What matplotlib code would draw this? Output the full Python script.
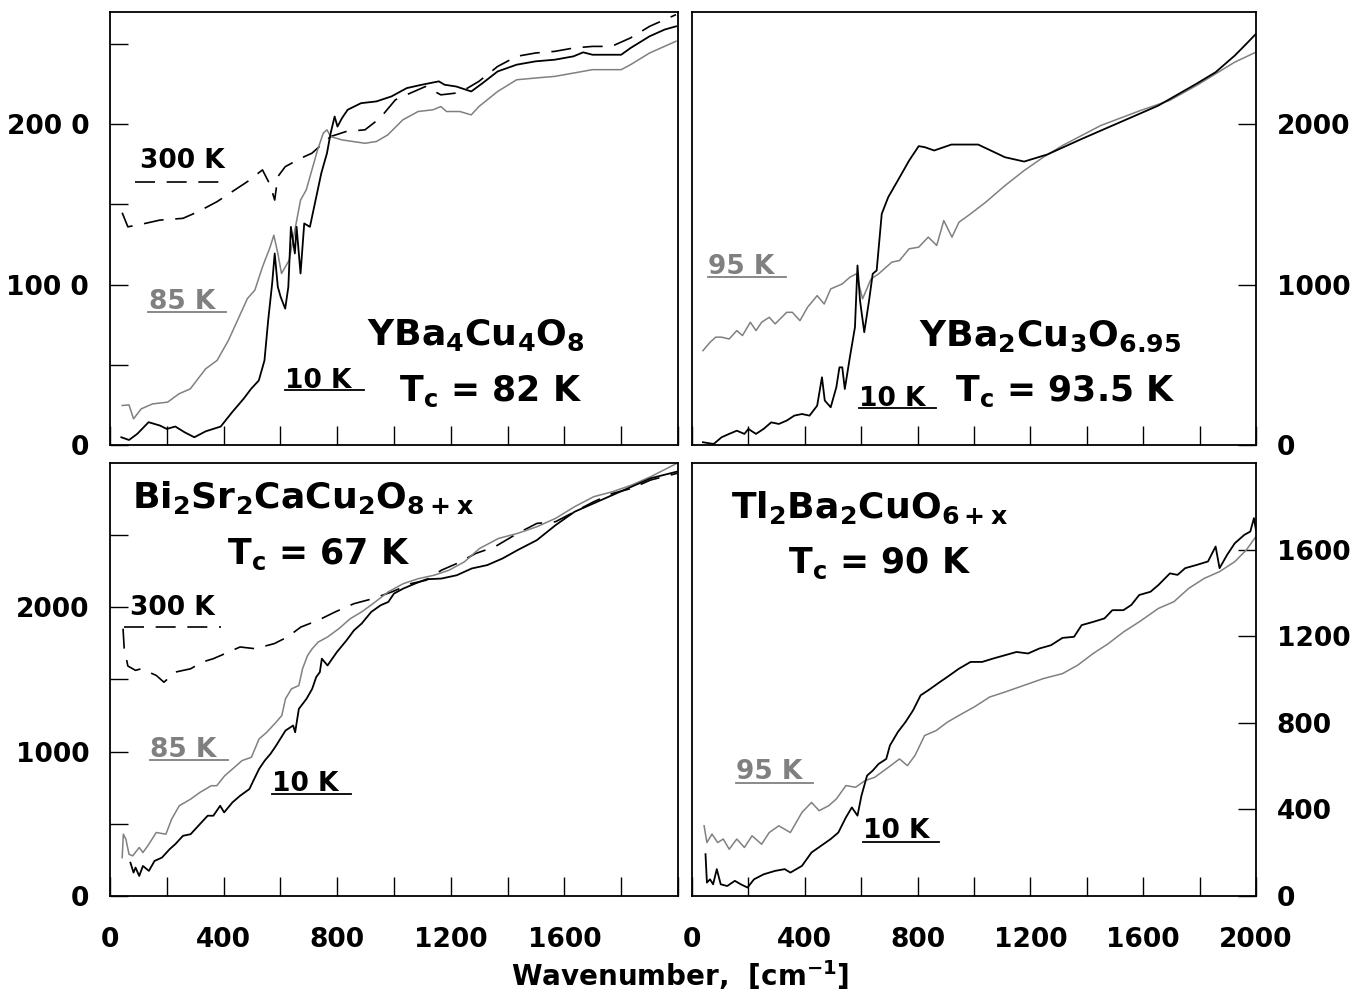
import matplotlib
matplotlib.use("Agg")
import matplotlib.pyplot as plt

plt.rcParams['font.family'] = 'DejaVu Sans'
plt.rcParams['font.weight'] = 'bold'
plt.rcParams['mathtext.fontset'] = 'dejavusans'
plt.rcParams['mathtext.default'] = 'bf'

GRAY = '#808080'
DASH = (0, (12, 7))

# ---- YBa4Cu4O8 (top left) ----
y124_x10 = [40, 67, 96, 136, 176, 200, 230, 263, 297, 337, 390, 430, 470, 497, 524, 544, 557, 571, 580, 591,
            601, 617, 628, 637, 651, 657, 671, 684, 704, 724, 744, 764, 777, 791, 801, 817, 837, 884, 938, 991,
            1045, 1098, 1158, 1178, 1219, 1272, 1312, 1365, 1432, 1499, 1566, 1632, 1666, 1699, 1753, 1800,
            1833, 1900, 1953, 1993]
y124_y10 = [48, 31, 69, 142, 121, 100, 115, 79, 48, 85, 115, 204, 287, 350, 402, 527, 777, 1006, 1194, 985,
            923, 850, 985, 1360, 1194, 1360, 1069, 1381, 1360, 1527, 1694, 1819, 1944, 2048, 1985, 2038, 2090,
            2131, 2142, 2173, 2225, 2246, 2267, 2246, 2235, 2204, 2256, 2329, 2371, 2392, 2402, 2423, 2448,
            2433, 2433, 2433, 2475, 2548, 2590, 2610]
y124_x85 = [43, 67, 83, 110, 150, 203, 243, 283, 310, 337, 377, 417, 457, 484, 510, 537, 564, 577, 591, 604,
            631, 651, 671, 691, 711, 731, 751, 764, 777, 817, 898, 938, 978, 1031, 1085, 1138, 1165, 1185, 1232,
            1272, 1299, 1365, 1432, 1499, 1566, 1633, 1699, 1800, 1833, 1900, 1993]
y124_y85 = [246, 250, 163, 225, 256, 267, 319, 350, 413, 475, 527, 652, 808, 913, 965, 1110, 1235, 1308, 1194,
            1069, 1152, 1340, 1527, 1590, 1715, 1840, 1944, 1965, 1923, 1902, 1881, 1892, 1933, 2027, 2079,
            2090, 2110, 2079, 2079, 2058, 2110, 2204, 2277, 2288, 2298, 2319, 2340, 2340, 2371, 2444, 2517]
y124_x300 = [43, 63, 123, 176, 257, 310, 377, 430, 484, 537, 564, 580, 591, 617, 671, 711, 737, 777, 831, 898,
             951, 1005, 1058, 1111, 1165, 1219, 1259, 1299, 1365, 1432, 1499, 1566, 1633, 1699, 1766, 1833,
             1900, 1993]
y124_y300 = [1448, 1360, 1381, 1402, 1413, 1454, 1517, 1579, 1642, 1715, 1621, 1527, 1673, 1735, 1787, 1819,
             1860, 1923, 1954, 1965, 2038, 2152, 2194, 2235, 2183, 2194, 2225, 2267, 2360, 2423, 2444, 2454,
             2475, 2485, 2485, 2538, 2610, 2683]

# ---- YBa2Cu3O6.95 (top right) ----
y123_x10 = [39, 77, 105, 132, 159, 186, 200, 227, 254, 281, 308, 336, 363, 390, 417, 444, 461, 471, 492, 512,
            523, 533, 542, 560, 578, 587, 596, 611, 628, 641, 655, 673, 696, 730, 770, 804, 825, 859, 920, 1015,
            1110, 1178, 1260, 1382, 1518, 1654, 1789, 1857, 1925, 1966, 2000]
y123_y10 = [17, 6, 48, 69, 89, 69, 100, 69, 100, 141, 131, 152, 183, 193, 183, 245, 422, 277, 235, 360, 484,
            484, 349, 547, 734, 1119, 900, 703, 900, 1067, 1088, 1441, 1545, 1649, 1773, 1863, 1857, 1836,
            1873, 1873, 1794, 1767, 1811, 1908, 2012, 2116, 2252, 2324, 2428, 2501, 2563]
y123_x95 = [39, 64, 84, 105, 132, 159, 179, 207, 227, 247, 274, 295, 336, 356, 383, 410, 444, 469, 492, 533,
            560, 583, 605, 635, 662, 689, 709, 736, 770, 804, 838, 868, 893, 922, 947, 988, 1042, 1110, 1178,
            1246, 1314, 1450, 1590, 1694, 1789, 1857, 1925, 2000]
y123_y95 = [588, 640, 672, 672, 661, 713, 682, 765, 713, 765, 796, 755, 827, 827, 775, 859, 931, 879, 973,
            1004, 1046, 1067, 911, 1035, 1067, 1109, 1140, 1150, 1223, 1233, 1296, 1244, 1399, 1296, 1389,
            1441, 1514, 1617, 1711, 1794, 1867, 1992, 2085, 2148, 2241, 2314, 2387, 2449]

# ---- Bi2Sr2CaCu2O8+x (bottom left) ----
bi_x10 = [72, 83, 90, 103, 116, 137, 157, 183, 210, 230, 257, 284, 311, 344, 364, 388, 402, 431, 458, 491,
          505, 525, 545, 565, 585, 618, 645, 652, 665, 692, 712, 726, 739, 746, 766, 799, 833, 859, 886, 920,
          953, 980, 1000, 1033, 1074, 1114, 1167, 1221, 1274, 1328, 1382, 1435, 1503, 1569, 1636, 1703, 1770,
          1837, 1904, 1997]
bi_y10 = [231, 162, 197, 139, 208, 174, 243, 266, 324, 359, 417, 428, 486, 556, 556, 625, 579, 648, 694, 741,
          799, 880, 938, 984, 1042, 1146, 1181, 1134, 1296, 1366, 1435, 1516, 1551, 1644, 1597, 1690, 1771,
          1840, 1887, 1968, 2014, 2037, 2095, 2130, 2164, 2194, 2199, 2222, 2269, 2292, 2338, 2396, 2465,
          2569, 2662, 2720, 2778, 2836, 2894, 2940]
bi_x85 = [43, 47, 56, 67, 80, 103, 116, 137, 163, 197, 217, 244, 284, 317, 357, 376, 404, 438, 465, 498, 525,
          552, 585, 605, 618, 639, 665, 678, 696, 712, 733, 766, 806, 846, 886, 926, 980, 1033, 1087, 1141,
          1194, 1248, 1301, 1368, 1435, 1503, 1569, 1636, 1703, 1770, 1837, 1904, 1997]
bi_y85 = [266, 428, 394, 289, 278, 336, 301, 359, 440, 428, 532, 625, 671, 718, 764, 764, 833, 891, 938, 961,
          1088, 1134, 1204, 1250, 1366, 1435, 1458, 1574, 1667, 1713, 1759, 1794, 1852, 1921, 1968, 2025,
          2107, 2164, 2199, 2222, 2257, 2315, 2407, 2477, 2512, 2558, 2616, 2697, 2766, 2801, 2847, 2905, 2998]
bi_x300 = [46, 50, 63, 90, 110, 163, 190, 230, 284, 324, 364, 391, 458, 511, 578, 625, 672, 733, 793, 859, 926,
           993, 1060, 1114, 1167, 1221, 1288, 1355, 1435, 1503, 1569, 1636, 1703, 1770, 1837, 1904, 1997]
bi_y300 = [1852, 1718, 1593, 1563, 1574, 1528, 1481, 1551, 1574, 1620, 1644, 1667, 1725, 1713, 1748, 1794,
           1863, 1910, 1968, 2025, 2060, 2107, 2164, 2188, 2257, 2303, 2373, 2419, 2512, 2581, 2593, 2662,
           2731, 2789, 2824, 2882, 2928]

# ---- Tl2Ba2CuO6+x (bottom right) ----
tl_x10 = [48, 53, 64, 75, 88, 102, 125, 152, 173, 197, 220, 254, 295, 329, 349, 390, 424, 458, 492, 519, 546,
          567, 587, 601, 621, 641, 662, 689, 702, 730, 757, 784, 811, 838, 879, 906, 947, 988, 1029, 1069, 1110,
          1151, 1192, 1232, 1273, 1314, 1355, 1382, 1423, 1463, 1491, 1530, 1558, 1586, 1626, 1654, 1695,
          1722, 1749, 1790, 1830, 1857, 1871, 1898, 1925, 1959, 1980, 1993, 2000]
tl_y10 = [193, 62, 77, 54, 124, 54, 46, 70, 54, 39, 77, 100, 116, 124, 108, 139, 201, 232, 263, 293, 363, 409,
          371, 463, 556, 579, 610, 633, 695, 757, 803, 857, 927, 950, 988, 1012, 1050, 1081, 1081, 1097, 1112,
          1127, 1120, 1143, 1158, 1192, 1197, 1251, 1266, 1282, 1320, 1320, 1344, 1390, 1405, 1436, 1490,
          1483, 1514, 1529, 1545, 1614, 1514, 1576, 1629, 1668, 1683, 1745, 1691]
tl_x95 = [43, 53, 71, 91, 111, 132, 159, 186, 213, 247, 274, 308, 349, 390, 424, 451, 485, 512, 546, 580, 614,
          648, 689, 736, 764, 791, 825, 866, 906, 947, 1001, 1056, 1110, 1178, 1246, 1314, 1368, 1423, 1477,
          1531, 1586, 1654, 1709, 1762, 1817, 1871, 1925, 1966, 2000]
tl_y95 = [324, 247, 286, 247, 263, 216, 263, 224, 278, 239, 293, 324, 293, 386, 432, 394, 417, 448, 510, 502,
          533, 548, 587, 633, 602, 649, 741, 764, 803, 834, 873, 919, 942, 973, 1004, 1027, 1066, 1120, 1166,
          1220, 1266, 1328, 1359, 1421, 1467, 1498, 1544, 1598, 1660]

xticks = list(range(0, 2001, 200))


def style_axes(ax, ymax, yticks, ylabels, side, xlabels):
    ax.set_xlim(0, 2000)
    ax.set_ylim(0, ymax)
    for s in ax.spines.values():
        s.set_linewidth(1.3)
    ax.set_xticks(xticks)
    if xlabels:
        ax.set_xticklabels(xlabels)
    else:
        ax.set_xticklabels([])
    ax.set_yticks(yticks)
    ax.set_yticklabels(ylabels)
    ax.tick_params(axis='x', direction='in', length=14, width=1, labelsize=19, pad=22)
    if side == 'left':
        ax.tick_params(axis='y', direction='in', length=13, width=1, labelsize=19, pad=15,
                       left=True, right=False, labelleft=True, labelright=False)
    else:
        ax.tick_params(axis='y', direction='in', length=13, width=1, labelsize=19, pad=15,
                       left=False, right=True, labelleft=False, labelright=True)


def temp_label(ax, text, x, y, x0, x1, yl, color, dashed=False):
    ax.text(x, y, text, fontsize=19, color=color, ha='left', va='baseline')
    if dashed:
        ax.plot([x0, x1], [yl, yl], color=color, lw=1.2, linestyle=DASH)
    else:
        ax.plot([x0, x1], [yl, yl], color=color, lw=1.3)


fig = plt.figure(figsize=(13.56, 9.93), dpi=100)
ax_tl = fig.add_axes([0.0811, 0.5519, 0.4189, 0.4361])
ax_tr = fig.add_axes([0.5103, 0.5519, 0.4159, 0.4361])
ax_bl = fig.add_axes([0.0811, 0.0977, 0.4189, 0.4361])
ax_br = fig.add_axes([0.5103, 0.0977, 0.4159, 0.4361])

# top left
ax_tl.plot(y124_x300, y124_y300, color='black', lw=1.2, linestyle=DASH)
ax_tl.plot(y124_x85, y124_y85, color=GRAY, lw=1.1)
ax_tl.plot(y124_x10, y124_y10, color='black', lw=1.3)
style_axes(ax_tl, 2700, [0, 500, 1000, 1500, 2000, 2500], ['0', '', '100 0', '', '200 0', ''], 'left', None)
temp_label(ax_tl, '300 K', 107, 1725, 87, 423, 1642, 'black', dashed=True)
temp_label(ax_tl, '85 K', 136, 850, 134, 410, 829, GRAY)
temp_label(ax_tl, '10 K', 617, 356, 617, 894, 344, 'black')
ax_tl.text(905, 621, r'YBa$_4$Cu$_4$O$_8$', fontsize=26, ha='left', va='baseline')
ax_tl.text(1018, 277, r'T$_c$ = 82 K', fontsize=25, ha='left', va='baseline')

# top right
ax_tr.plot(y123_x95, y123_y95, color=GRAY, lw=1.1)
ax_tr.plot(y123_x10, y123_y10, color='black', lw=1.3)
style_axes(ax_tr, 2700, [0, 1000, 2000], ['0', '1000', '2000'], 'right', None)
temp_label(ax_tr, '95 K', 57, 1067, 57, 333, 1046, GRAY)
temp_label(ax_tr, '10 K', 594, 245, 594, 865, 231, 'black')
ax_tr.text(804, 620, r'YBa$_2$Cu$_3$O$_{6.95}$', fontsize=26, ha='left', va='baseline')
ax_tr.text(933, 276, r'T$_c$ = 93.5 K', fontsize=25, ha='left', va='baseline')

# bottom left
ax_bl.plot(bi_x300, bi_y300, color='black', lw=1.2, linestyle=DASH)
ax_bl.plot(bi_x85, bi_y85, color=GRAY, lw=1.1)
ax_bl.plot(bi_x10, bi_y10, color='black', lw=1.3)
style_axes(ax_bl, 3000, [0, 500, 1000, 1500, 2000, 2500], ['0', '', '1000', '', '2000', ''], 'left',
           ['0', '', '400', '', '800', '', '1200', '', '1600', '', ''])
temp_label(ax_bl, '300 K', 70, 1949, 50, 391, 1863, 'black', dashed=True)
temp_label(ax_bl, '85 K', 141, 961, 141, 415, 942, GRAY)
temp_label(ax_bl, '10 K', 572, 729, 572, 849, 706, 'black')
ax_bl.text(76, 2685, r'Bi$_2$Sr$_2$CaCu$_2$O$_{8+x}$', fontsize=26, ha='left', va='baseline')
ax_bl.text(411, 2303, r'T$_c$ = 67 K', fontsize=25, ha='left', va='baseline')

# bottom right
ax_br.plot(tl_x95, tl_y95, color=GRAY, lw=1.1)
ax_br.plot(tl_x10, tl_y10, color='black', lw=1.3)
style_axes(ax_br, 2000, [0, 400, 800, 1200, 1600], ['0', '400', '800', '1200', '1600'], 'right',
           ['0', '', '400', '', '800', '', '1200', '', '1600', '', '2000'])
temp_label(ax_br, '95 K', 156, 541, 156, 428, 522, GRAY)
temp_label(ax_br, '10 K', 605, 270, 605, 876, 250, 'black')
ax_br.text(139, 1745, r'Tl$_2$Ba$_2$CuO$_{6+x}$', fontsize=26, ha='left', va='baseline')
ax_br.text(342, 1490, r'T$_c$ = 90 K', fontsize=25, ha='left', va='baseline')

fig.text(680 / 1356, 1 - 975 / 993, r'Wavenumber,  [cm$^{-1}$]', fontsize=20, ha='center', va='center')

fig.savefig('out.png', dpi=100)
